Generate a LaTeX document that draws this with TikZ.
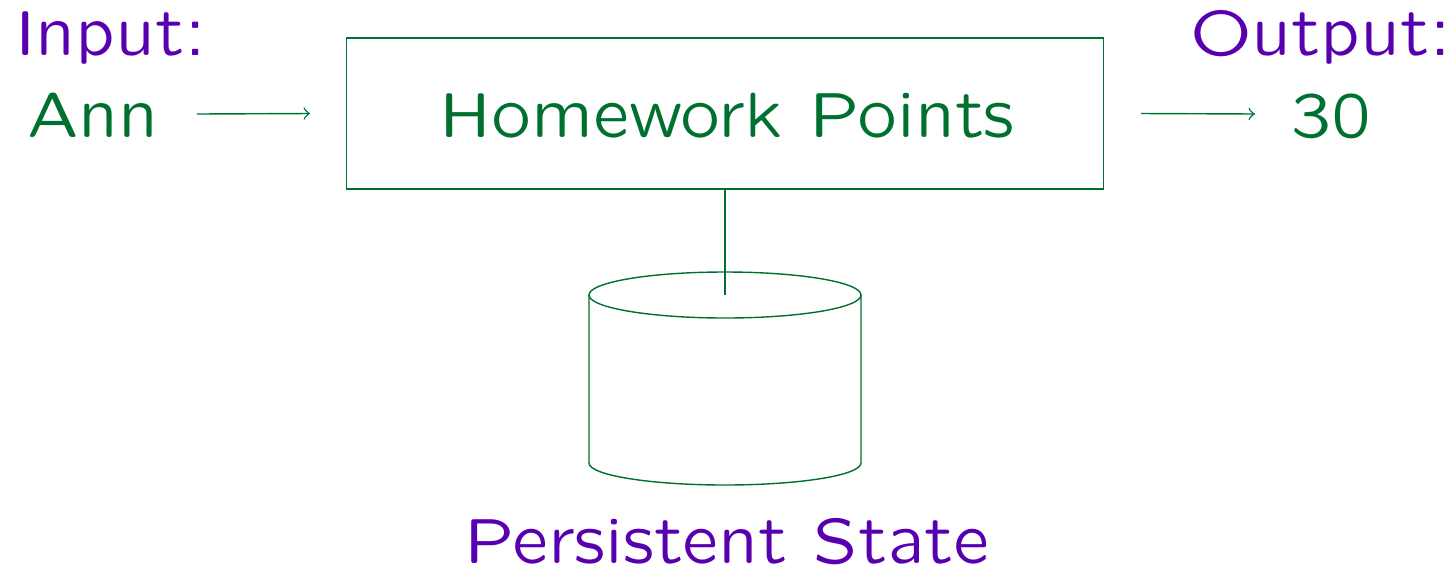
\documentclass[tikz,border=0pt]{standalone}
\usepackage{fontspec}
\setsansfont{Latin Modern Sans Quotation}
\definecolor{procgreen}{RGB}{0,112,48}
\definecolor{labelpurple}{RGB}{88,0,176}
\begin{document}
\begin{tikzpicture}[x=0.01cm, y=-0.01cm,
  every node/.style={font=\sffamily\fontsize{18.2}{22}\selectfont},
  caption/.style={labelpurple, anchor=base},
  value/.style={procgreen, anchor=base},
  flow/.style={->, procgreen, thin}]
  \useasboundingbox (0,0) rectangle (1454,569);

  % Processing box
  \node[draw=procgreen, thin, text=procgreen, minimum width=7.56cm,
        minimum height=1.51cm] (proc) at (725,113.5) {};
  \node[value] (proctext) at (727,137) {Homework Points};

  % Input and output
  \node[caption] (inlabel) at (111,55) {Input:};
  \node[value] (invalue) at (93,137) {Ann};
  \node[caption] (outlabel) at (1321,55) {Output:};
  \node[value] (outvalue) at (1331,137) {30};

  \coordinate (infrom) at (197,114);
  \coordinate (outto) at (1255,114);
  \draw[flow] (infrom) -- (proc.west -| 310,0);
  \draw[flow] (proc.east -| 1141,0) -- (outto);

  % Persistent state as a cylinder
  \coordinate (dbtop) at (725,295);
  \draw[procgreen, thin] (dbtop) ellipse (136 and 23);
  \draw[procgreen, thin] (589,295) -- (589,463)
    arc[start angle=180, end angle=360, x radius=136, y radius=-22]
    -- (861,295);
  \draw[procgreen, thin] (proc.south -| dbtop) -- (dbtop);
  \node[caption] (dblabel) at (727,563) {Persistent State};
\end{tikzpicture}
\end{document}
